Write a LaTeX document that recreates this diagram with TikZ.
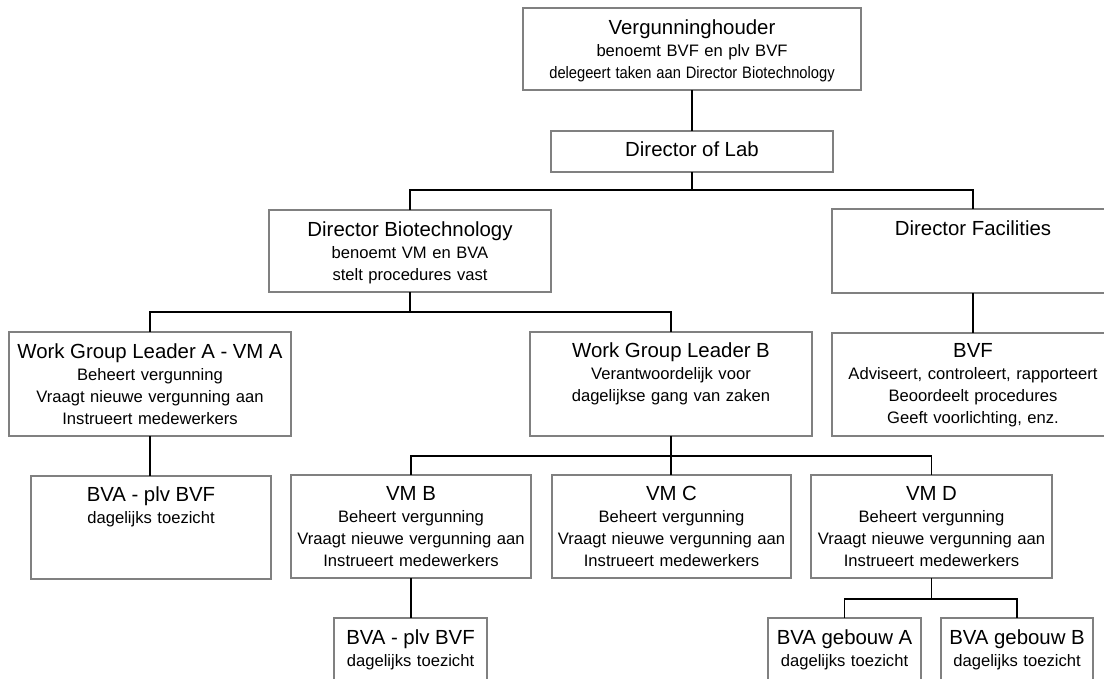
\documentclass[tikz,border=0pt]{standalone}
\usepackage{graphicx}
\usepackage{fontspec}
\setmainfont{Liberation Sans}
\newcommand{\boxtitle}[1]{{\fontsize{20.4}{22}\selectfont #1}}
\begin{document}
\begin{tikzpicture}[x=1pt,y=-1pt,
  orgbox/.style={draw=black!50,line width=1.1pt,fill=white,inner sep=0pt,outer sep=0pt},
  orgtext/.style={anchor=base,text width=330pt,align=center,inner sep=0pt,font=\fontsize{16.6}{22}\selectfont},
  conn/.style={draw=black,line width=1.3pt}]
\useasboundingbox (0,0) rectangle (1104,678);
\clip (0,0) rectangle (1104,678);
\newcommand{\orgnode}[5]{% name x1 y1 x2 y2
  \node[orgbox,minimum width={#4-#2},minimum height={#5-#3}] (#1) at ({(#2+#4)/2},{(#3+#5)/2}) {};}
\orgnode{vh}{523}{8}{861}{90}
\orgnode{dol}{551}{131}{833}{172}
\orgnode{db}{269}{210}{551}{292}
\orgnode{df}{832}{209}{1114}{293}
\orgnode{bvf}{832}{333}{1114}{436}
\orgnode{wga}{9}{332}{291}{436}
\orgnode{wgb}{530}{332}{812}{436}
\orgnode{bvaa}{31}{476}{271}{579}
\orgnode{vmb}{291}{475}{531}{578}
\orgnode{vmc}{552}{475}{791}{578}
\orgnode{vmd}{811}{475}{1052}{578}
\orgnode{bvab}{334}{618}{487}{700}
\orgnode{bga}{768}{618}{921}{700}
\orgnode{bgb}{941}{618}{1093}{700}
% texts
\node[orgtext] (vh-t) at ([yshift=-26pt]vh.north) {\boxtitle{Vergunninghouder}\\benoemt BVF en plv BVF\\\scalebox{0.886}[1]{delegeert taken aan Director Biotechnology}};
\node[orgtext] (dol-t) at ([yshift=-5pt]dol.center) {\boxtitle{Director of Lab}};
\node[orgtext] (db-t) at ([yshift=-26pt]db.north) {\boxtitle{Director Biotechnology}\\benoemt VM en BVA\\stelt procedures vast};
\node[orgtext] (df-t) at ([yshift=-26pt]df.north) {\boxtitle{Director Facilities}};
\node[orgtext] (bvf-t) at ([yshift=-24pt]bvf.north) {\boxtitle{BVF}\\Adviseert, controleert, rapporteert\\Beoordeelt procedures\\Geeft voorlichting, enz.};
\node[orgtext] (wga-t) at ([yshift=-26pt]wga.north) {\boxtitle{Work Group Leader A - VM A}\\Beheert vergunning\\Vraagt nieuwe vergunning aan\\Instrueert medewerkers};
\node[orgtext] (wgb-t) at ([yshift=-25pt]wgb.north) {\boxtitle{Work Group Leader B}\\Verantwoordelijk voor\\dagelijkse gang van zaken};
\node[orgtext] (bvaa-t) at ([yshift=-25.5pt]bvaa.north) {\boxtitle{BVA - plv BVF}\\dagelijks toezicht};
\node[orgtext] (vmb-t) at ([yshift=-25pt]vmb.north) {\boxtitle{VM B}\\Beheert vergunning\\Vraagt nieuwe vergunning aan\\Instrueert medewerkers};
\node[orgtext] (vmc-t) at ([yshift=-25pt]vmc.north) {\boxtitle{VM C}\\Beheert vergunning\\Vraagt nieuwe vergunning aan\\Instrueert medewerkers};
\node[orgtext] (vmd-t) at ([yshift=-25pt]vmd.north) {\boxtitle{VM D}\\Beheert vergunning\\Vraagt nieuwe vergunning aan\\Instrueert medewerkers};
\node[orgtext] (bvab-t) at ([yshift=-26pt]bvab.north) {\boxtitle{BVA - plv BVF}\\dagelijks toezicht};
\node[orgtext] (bga-t) at ([yshift=-26pt]bga.north) {\boxtitle{BVA gebouw A}\\dagelijks toezicht};
\node[orgtext] (bgb-t) at ([yshift=-26pt]bgb.north) {\boxtitle{BVA gebouw B}\\dagelijks toezicht};
% connectors
\draw[conn] (vh.south) -- (dol.north);
\draw[conn] (dol.south) -- ++(0,18) -| (db.north);
\draw[conn] (dol.south) -- ++(0,18) -| (df.north);
\draw[conn] (db.south) -- ++(0,20) -| (wga.north);
\draw[conn] (db.south) -- ++(0,20) -| (wgb.north);
\draw[conn] (df.south) -- (bvf.north);
\draw[conn] (wga.south) -- (bvaa.north -| wga.south);
\draw[conn] (wgb.south) -- ++(0,20) -| (vmb.north);
\draw[conn] (wgb.south) -- (vmc.north -| wgb.south);
\draw[conn] (wgb.south) -- ++(0,20) -| (vmd.north);
\draw[conn] (vmb.south) -- (bvab.north -| vmb.south);
\draw[conn] (vmd.south) -- ++(0,21) -| (bga.north);
\draw[conn] (vmd.south) -- ++(0,21) -| (bgb.north);
\end{tikzpicture}
\end{document}
